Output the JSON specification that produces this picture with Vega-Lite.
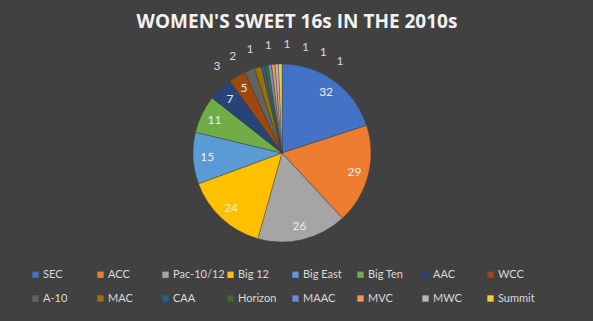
{
  "$schema": "https://vega.github.io/schema/vega-lite/v6.json",
  "autosize": {"type": "none"},
  "width": 564,
  "height": 242,
  "padding": {"top": 32, "left": 0, "right": 29, "bottom": 47},
  "background": "#414141",
  "config": {"view": {"stroke": null}},
  "title": {
    "text": "WOMEN'S SWEET 16s IN THE 2010s",
    "font": "Open Sans",
    "fontSize": 19,
    "fontWeight": "bold",
    "color": "#f2f2f2",
    "baseline": "alphabetic",
    "offset": -15,
    "dx": 15
  },
  "data": {
    "values": [
      {"conf": "SEC", "n": 32, "o": 1},
      {"conf": "ACC", "n": 29, "o": 2},
      {"conf": "Pac-10/12", "n": 26, "o": 3},
      {"conf": "Big 12", "n": 24, "o": 4},
      {"conf": "Big East", "n": 15, "o": 5},
      {"conf": "Big Ten", "n": 11, "o": 6},
      {"conf": "AAC", "n": 7, "o": 7},
      {"conf": "WCC", "n": 5, "o": 8},
      {"conf": "A-10", "n": 3, "o": 9},
      {"conf": "MAC", "n": 2, "o": 10},
      {"conf": "CAA", "n": 1, "o": 11},
      {"conf": "Horizon", "n": 1, "o": 12},
      {"conf": "MAAC", "n": 1, "o": 13},
      {"conf": "MVC", "n": 1, "o": 14},
      {"conf": "MWC", "n": 1, "o": 15},
      {"conf": "Summit", "n": 1, "o": 16}
    ]
  },
  "resolve": {"scale": {"theta": "independent"}},
  "layer": [
    {
      "mark": {"type": "arc", "outerRadius": 89, "stroke": "#3a3a3a", "strokeWidth": 0.4},
      "encoding": {
        "theta": {"field": "n", "type": "quantitative", "stack": true, "scale": {"domain": [0, 160]}},
        "order": {"field": "o", "type": "quantitative"},
        "color": {
          "field": "conf",
          "type": "nominal",
          "sort": ["SEC","ACC","Pac-10/12","Big 12","Big East","Big Ten","AAC","WCC","A-10","MAC","CAA","Horizon","MAAC","MVC","MWC","Summit"],
          "scale": {
            "domain": ["SEC","ACC","Pac-10/12","Big 12","Big East","Big Ten","AAC","WCC","A-10","MAC","CAA","Horizon","MAAC","MVC","MWC","Summit"],
            "range": ["#4472C4","#ED7D31","#A5A5A5","#FFC000","#5B9BD5","#70AD47","#264478","#9E480E","#636363","#997300","#255E91","#43682B","#698ED0","#F1975A","#B7B7B7","#FFCD33"]
          },
          "legend": {
            "title": null,
            "orient": "none",
            "legendX": 30,
            "legendY": 237,
            "direction": "horizontal",
            "columns": 8,
            "gridAlign": "all",
            "columnPadding": 0,
            "rowPadding": 12,
            "symbolType": "square",
            "symbolSize": 40,
            "symbolStrokeWidth": 0,
            "labelColor": "#d9d9d9",
            "labelFont": "Lato",
            "labelFontSize": 11,
            "labelOffset": 2
          }
        }
      }
    },
    {
      "transform": [{"filter": "datum.n >= 5"}],
      "mark": {"type": "text", "radius": 75, "font": "Lato", "fontSize": 12, "color": "#eeeeee"},
      "encoding": {
        "theta": {"field": "n", "type": "quantitative", "stack": true, "scale": {"domain": [0, 160]}},
        "order": {"field": "o", "type": "quantitative"},
        "text": {"field": "n", "type": "quantitative"}
      }
    },
    {
      "transform": [{"filter": "datum.n < 5"}],
      "mark": {"type": "text", "radius": 109, "font": "Lato", "fontSize": 12, "color": "#d9d9d9"},
      "encoding": {
        "theta": {"field": "o", "type": "quantitative", "stack": null, "scale": {"domain": [9, 16], "range": [-0.64, 0.56]}},
        "text": {"field": "n", "type": "quantitative"}
      }
    }
  ]
}
